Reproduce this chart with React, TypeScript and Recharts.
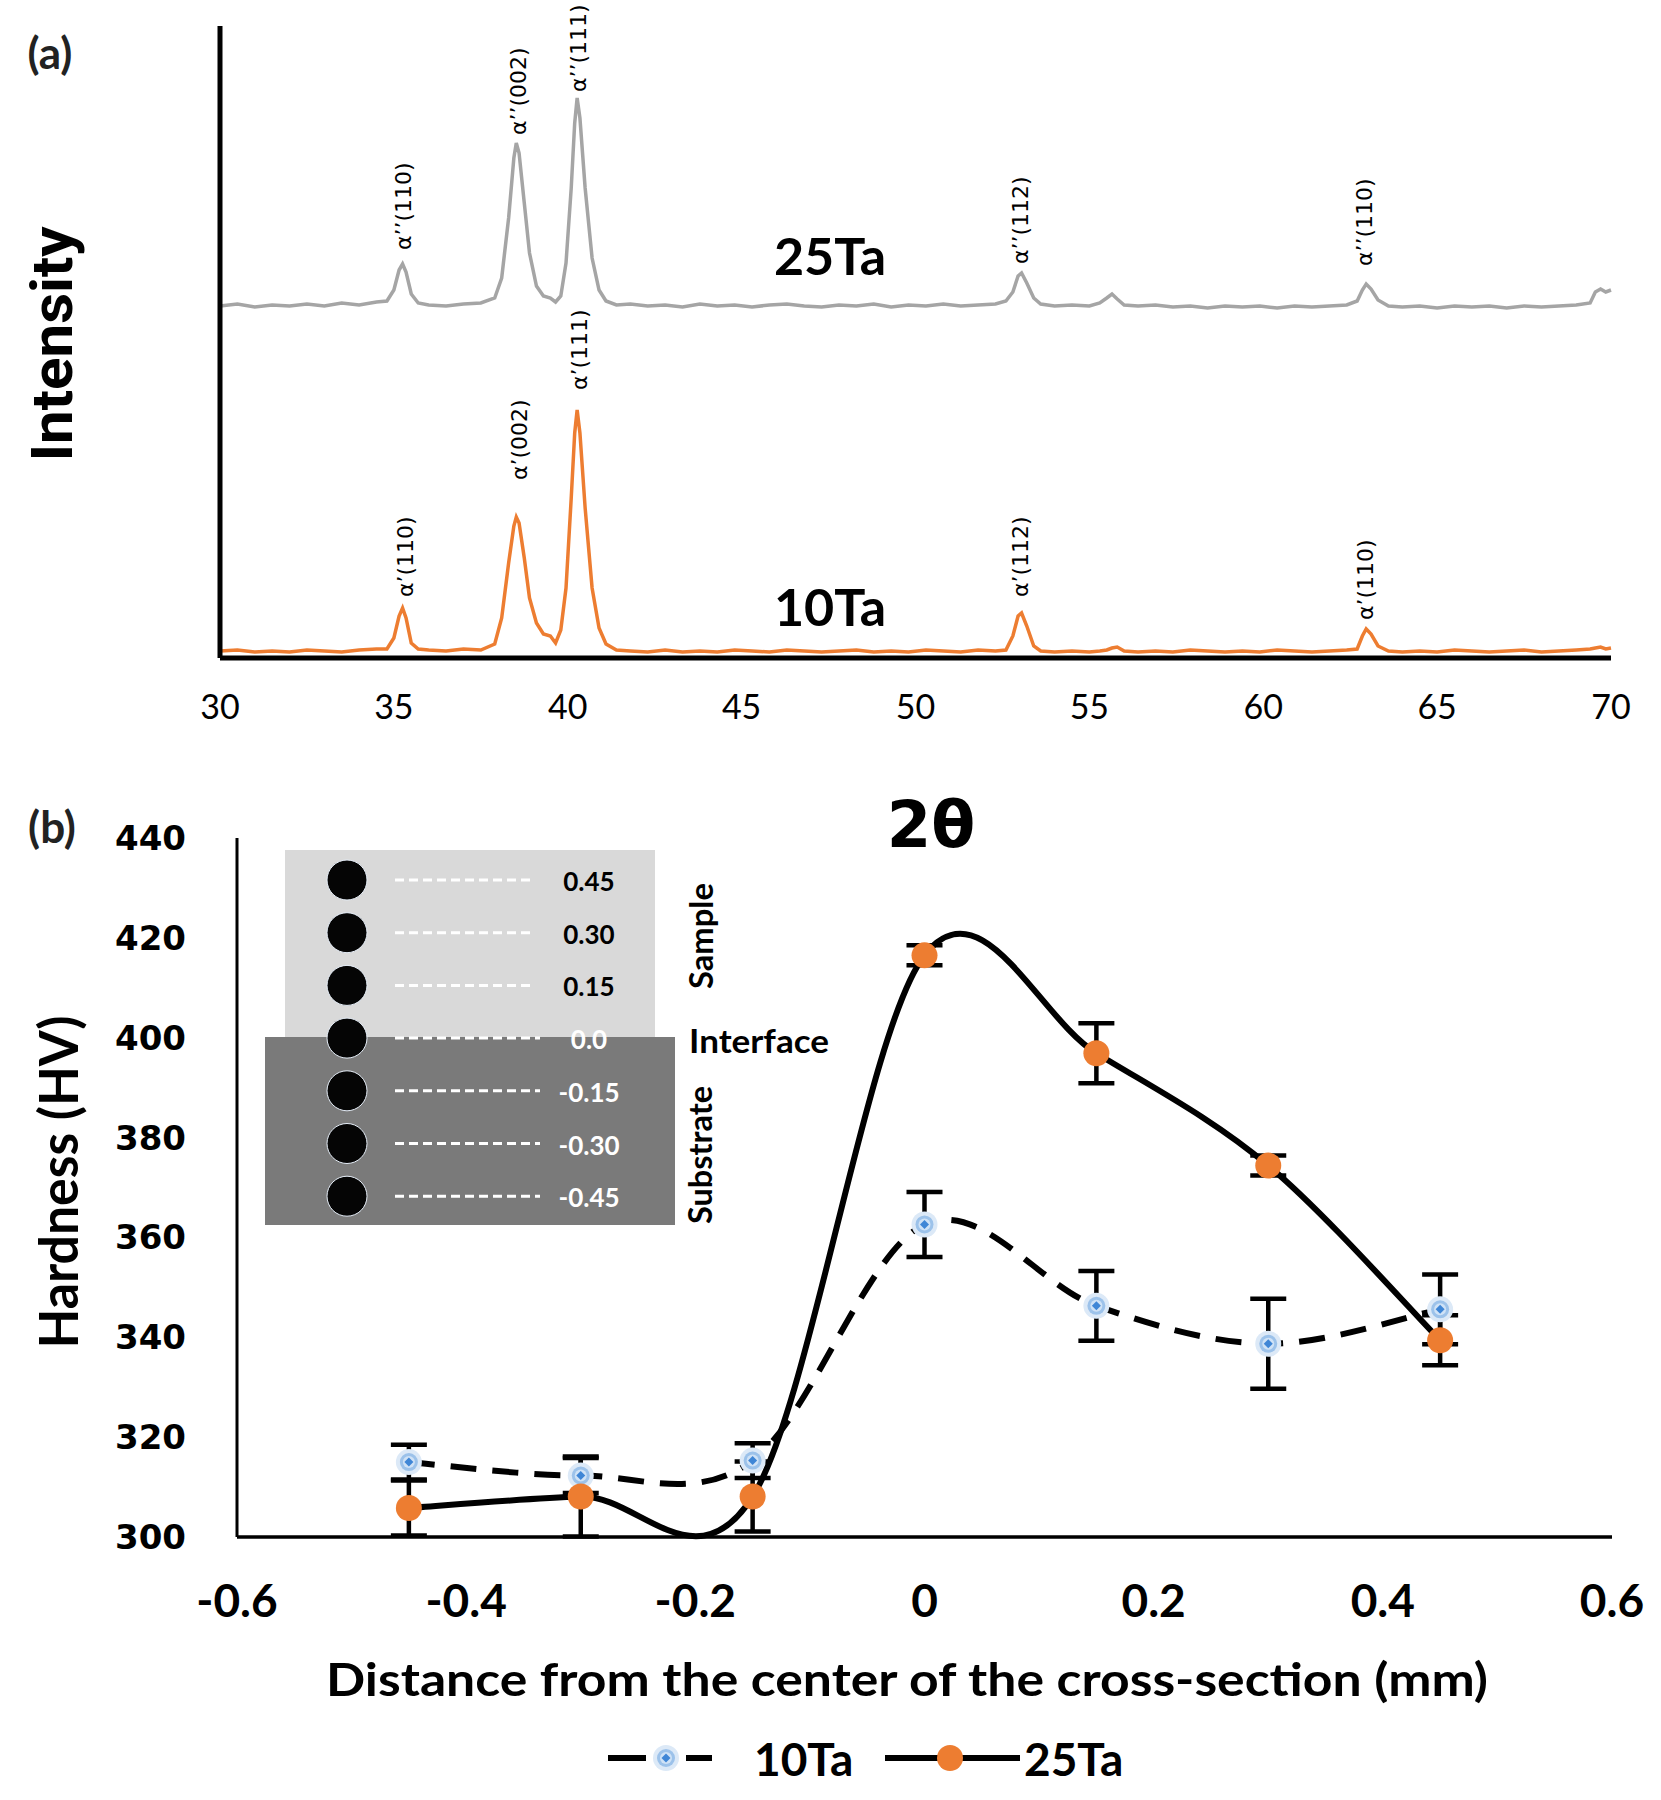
import React from 'react';
import { ComposedChart, Line, XAxis, YAxis, Scatter, ErrorBar } from 'recharts';

// ---------- Panel (a): XRD patterns ----------
const twoTheta = [
  30.0, 30.5, 31.0, 31.5, 32.0, 32.5, 33.0, 33.5, 34.0, 34.5, 34.8, 35.0, 35.15, 35.25, 35.35, 35.5, 35.7, 36.0, 36.5, 37.0,
  37.5, 37.9, 38.1, 38.3, 38.45, 38.52, 38.6, 38.75, 38.9, 39.1, 39.3, 39.5, 39.65, 39.8, 39.95, 40.1, 40.2, 40.27, 40.35, 40.5,
  40.7, 40.9, 41.1, 41.4, 41.8, 42.3, 42.8, 43.3, 43.8, 44.3, 44.8, 45.3, 45.8, 46.3, 46.8, 47.3, 47.8, 48.3, 48.8, 49.3,
  49.8, 50.3, 50.8, 51.3, 51.8, 52.3, 52.6, 52.8, 52.95, 53.05, 53.2, 53.4, 53.6, 54.0, 54.5, 55.0, 55.3, 55.5, 55.65, 55.8,
  56.0, 56.4, 56.9, 57.4, 57.9, 58.4, 58.9, 59.4, 59.9, 60.4, 60.9, 61.4, 61.9, 62.4, 62.7, 62.85, 62.96, 63.1, 63.3, 63.6,
  64.0, 64.5, 65.0, 65.5, 66.0, 66.5, 67.0, 67.5, 68.0, 68.5, 69.0, 69.4, 69.55, 69.7, 69.85, 70.0,
];
const intensity25Ta = [
  352, 354, 351, 353, 352, 354, 352, 355, 353, 356, 357, 368, 388, 394, 386, 364, 355, 353, 352, 354,
  355, 360, 380, 440, 500, 515, 505, 455, 405, 372, 362, 360, 356, 362, 395, 470, 535, 560, 540, 470,
  400, 368, 357, 353, 354, 352, 353, 351, 354, 352, 353, 351, 353, 354, 352, 351, 353, 352, 354, 351,
  353, 352, 354, 352, 353, 354, 357, 366, 382, 385, 375, 360, 354, 352, 353, 352, 355, 360, 364, 359,
  353, 352, 353, 351, 352, 350, 352, 351, 352, 350, 352, 351, 352, 353, 357, 368, 374, 369, 358, 352,
  351, 352, 350, 352, 351, 352, 350, 352, 351, 352, 353, 355, 366, 369, 366, 368,
];
const intensity10Ta = [
  7, 8, 6, 7, 6, 8, 7, 6, 8, 9, 9, 20, 42, 50, 40, 15, 9, 8, 7, 9,
  8, 14, 40, 95, 132, 141, 135, 100, 60, 35, 24, 22, 15, 28, 70, 160, 225, 248, 225, 150,
  70, 30, 14, 8, 7, 6, 8, 6, 7, 6, 8, 7, 6, 8, 7, 6, 7, 8, 6, 7,
  6, 8, 7, 6, 8, 7, 8, 22, 42, 45, 32, 12, 7, 6, 7, 6, 7, 8, 10, 11,
  7, 6, 7, 6, 8, 7, 6, 7, 6, 8, 7, 6, 7, 8, 9, 22, 29, 24, 12, 7,
  6, 7, 6, 8, 7, 6, 7, 8, 6, 7, 8, 9, 10, 11, 9, 10,
];
const xrdTicks = [30, 35, 40, 45, 50, 55, 60, 65, 70];

const peakLabels25Ta = [
  { x: 35.29, y: 408, text: 'α’’(110)' },
  { x: 38.57, y: 523, text: 'α’’(002)' },
  { x: 40.3, y: 566, text: 'α’’(111)' },
  { x: 53.03, y: 394, text: 'α’’(112)' },
  { x: 62.9, y: 392, text: 'α’’(110)' },
];
const peakLabels10Ta = [
  { x: 35.32, y: 61, text: 'α’(110)' },
  { x: 38.6, y: 178, text: 'α’(002)' },
  { x: 40.35, y: 268, text: 'α’(111)' },
  { x: 53.03, y: 61, text: 'α’(112)' },
  { x: 62.95, y: 38, text: 'α’(110)' },
];

// ---------- Panel (b): hardness profile ----------
const distance = [-0.45, -0.3, -0.15, 0, 0.15, 0.3, 0.45];
const hardness10Ta = [315.0, 312.3, 315.3, 362.6, 346.3, 338.7, 345.6];
const error10Ta = [3.5, 3.5, 3.5, 6.5, 7.0, 9.0, 7.0];
const hardness25Ta = [305.8, 308.1, 308.1, 416.5, 396.9, 374.4, 339.4];
const error25Ta = [5.5, 8.0, 7.0, 2.0, 6.0, 2.0, 5.0];
const distanceTicks = [-0.6, -0.4, -0.2, 0, 0.2, 0.4, 0.6];
const hardnessTicks = [300, 320, 340, 360, 380, 400, 420, 440];

const insetDepths = ['0.45', '0.30', '0.15', '0.0', '-0.15', '-0.30', '-0.45'];

const xrdData = twoTheta.map((x, i) => ({ x, i25: intensity25Ta[i], i10: intensity10Ta[i] }));
const hvData = distance.map((x, i) => ({
  x,
  h10: hardness10Ta[i],
  e10: error10Ta[i],
  h25: hardness25Ta[i],
  e25: error25Ta[i],
}));

const LATO = "Lato, 'Open Sans', sans-serif";
const DEJAVU = "'DejaVu Sans', Verdana, sans-serif";
const ORANGE = '#ed7d31';
const GRAY = '#a5a5a5';

// Catmull-Rom style smoothing (like spreadsheet "smoothed line")
const smoothCurve: any = (context: any) => {
  let pts: number[][] = [];
  return {
    areaStart() {},
    areaEnd() {},
    lineStart() {
      pts = [];
    },
    point(x: number, y: number) {
      pts.push([+x, +y]);
    },
    lineEnd() {
      const n = pts.length;
      if (!n) return;
      context.moveTo(pts[0][0], pts[0][1]);
      for (let i = 0; i < n - 1; i++) {
        const p0 = pts[Math.max(i - 1, 0)];
        const p1 = pts[i];
        const p2 = pts[i + 1];
        const p3 = pts[Math.min(i + 2, n - 1)];
        context.bezierCurveTo(
          p1[0] + (p2[0] - p0[0]) / 6,
          p1[1] + (p2[1] - p0[1]) / 6,
          p2[0] - (p3[0] - p1[0]) / 6,
          p2[1] - (p3[1] - p1[1]) / 6,
          p2[0],
          p2[1]
        );
      }
    },
  };
};

const PeakLabel = (props: any) => {
  const { cx, cy, payload } = props;
  if (cx == null || cy == null) return <g />;
  return (
    <text
      x={cx}
      y={cy}
      transform={`rotate(-90 ${cx} ${cy})`}
      textAnchor="start"
      dominantBaseline="central"
      fontFamily={DEJAVU}
      fontSize={22}
      fill="#000"
    >
      {payload.text}
    </text>
  );
};

const BlueMarker = ({ cx, cy }: { cx: number; cy: number }) => (
  <g>
    <circle cx={cx} cy={cy} r={13} fill="#dce9f7" />
    <circle cx={cx} cy={cy} r={9} fill="#9cc2ea" />
    <circle cx={cx} cy={cy} r={6} fill="#cfe2f6" />
    <path d={`M${cx} ${cy - 4.5}L${cx + 4.5} ${cy}L${cx} ${cy + 4.5}L${cx - 4.5} ${cy}Z`} fill="#3f86d6" />
  </g>
);

const blueDot = (props: any) => {
  const { cx, cy, index } = props;
  if (cx == null || cy == null) return <g key={`b${index}`} />;
  return (
    <g key={`b${index}`}>
      <BlueMarker cx={cx} cy={cy} />
    </g>
  );
};

const orangeDot = (props: any) => {
  const { cx, cy, index } = props;
  if (cx == null || cy == null) return <g key={`o${index}`} />;
  return <circle key={`o${index}`} cx={cx} cy={cy} r={13} fill={ORANGE} />;
};

export default function App() {
  const insetRowY = (i: number) => 880 + i * 52.7;
  return (
    <div style={{ position: 'absolute', left: 0, top: 0, width: 1661, height: 1800, background: '#fff' }}>
      {/* Panel (a) */}
      <div style={{ position: 'absolute', left: 0, top: 0 }}>
        <ComposedChart width={1661} height={760} data={xrdData} margin={{ top: 26, right: 50, left: 0, bottom: 0 }}>
          <XAxis
            dataKey="x"
            type="number"
            domain={[30, 70]}
            ticks={xrdTicks}
            interval={0}
            height={102}
            tickLine={false}
            tickSize={0}
            tickMargin={37}
            axisLine={{ stroke: '#000', strokeWidth: 5 }}
            tick={{ fontSize: 34, fontFamily: LATO, fill: '#000' }}
          />
          <YAxis
            type="number"
            domain={[0, 632]}
            width={220}
            tick={false}
            tickLine={false}
            axisLine={{ stroke: '#000', strokeWidth: 5 }}
          />
          <Line dataKey="i25" type="linear" stroke={GRAY} strokeWidth={3.5} dot={false} isAnimationActive={false} />
          <Line dataKey="i10" type="linear" stroke={ORANGE} strokeWidth={3.5} dot={false} isAnimationActive={false} />
          <Scatter data={peakLabels25Ta} dataKey="y" shape={PeakLabel} isAnimationActive={false} />
          <Scatter data={peakLabels10Ta} dataKey="y" shape={PeakLabel} isAnimationActive={false} />
        </ComposedChart>
      </div>

      {/* Panel (b) */}
      <div style={{ position: 'absolute', left: 0, top: 760 }}>
        <ComposedChart width={1661} height={1040} data={hvData} margin={{ top: 78, right: 49, left: 0, bottom: 0 }}>
          <XAxis
            dataKey="x"
            type="number"
            domain={[-0.6, 0.6]}
            ticks={distanceTicks}
            interval={0}
            height={263}
            tickLine={false}
            tickSize={0}
            tickMargin={47}
            axisLine={{ stroke: '#000', strokeWidth: 3.5 }}
            tick={{ fontSize: 46, fontFamily: LATO, fontWeight: 700, fill: '#000' }}
            tickFormatter={(v: number) => String(v)}
          />
          <YAxis
            type="number"
            domain={[300, 440]}
            ticks={hardnessTicks}
            interval={0}
            width={237}
            tickLine={false}
            tickSize={0}
            tickMargin={51}
            axisLine={{ stroke: '#000', strokeWidth: 3 }}
            tick={{ fontSize: 34, fontFamily: DEJAVU, fontWeight: 700, fill: '#000' }}
          />
          <Line
            dataKey="h10"
            type={smoothCurve}
            stroke="#000"
            strokeWidth={6}
            strokeDasharray="26 16"
            dot={blueDot}
            activeDot={false}
            isAnimationActive={false}
          >
            <ErrorBar dataKey="e10" direction="y" width={18} strokeWidth={4.5} stroke="#000" />
          </Line>
          <Line
            dataKey="h25"
            type={smoothCurve}
            stroke="#000"
            strokeWidth={6}
            dot={orangeDot}
            activeDot={false}
            isAnimationActive={false}
          >
            <ErrorBar dataKey="e25" direction="y" width={18} strokeWidth={4.5} stroke="#000" />
          </Line>
        </ComposedChart>
      </div>

      {/* Text, inset schematic and legend */}
      <svg
        width={1661}
        height={1800}
        style={{ position: 'absolute', left: 0, top: 0, pointerEvents: 'none' }}
      >
        <text x={50} y={52} textAnchor="middle" dominantBaseline="central" fontFamily={LATO} fontWeight={700} fontSize={44} fill="#222">
          (a)
        </text>
        <text
          x={52}
          y={344}
          transform="rotate(-90 52 344)"
          textAnchor="middle"
          dominantBaseline="central"
          fontFamily="Roboto, sans-serif"
          fontWeight={700}
          fontSize={57}
          textLength={235}
          lengthAdjust="spacingAndGlyphs"
          fill="#000"
        >
          Intensity
        </text>
        <text x={830} y={255} textAnchor="middle" dominantBaseline="central" fontFamily={LATO} fontWeight={700} fontSize={52} fill="#000">
          25Ta
        </text>
        <text x={830} y={606} textAnchor="middle" dominantBaseline="central" fontFamily={LATO} fontWeight={700} fontSize={52} fill="#000">
          10Ta
        </text>
        <text x={931} y={825} textAnchor="middle" dominantBaseline="central" fontFamily={DEJAVU} fontWeight={700} fontSize={64} fill="#000">
          2θ
        </text>
        <text x={52} y={826} textAnchor="middle" dominantBaseline="central" fontFamily={LATO} fontWeight={700} fontSize={44} fill="#222">
          (b)
        </text>
        <text
          x={57}
          y={1182}
          transform="rotate(-90 57 1182)"
          textAnchor="middle"
          dominantBaseline="central"
          fontFamily={LATO}
          fontWeight={700}
          fontSize={54}
          textLength={333}
          lengthAdjust="spacingAndGlyphs"
          fill="#000"
        >
          Hardness (HV)
        </text>
        <text
          x={907}
          y={1678}
          textAnchor="middle"
          dominantBaseline="central"
          fontFamily={LATO}
          fontWeight={700}
          fontSize={46}
          textLength={1162}
          lengthAdjust="spacingAndGlyphs"
          fill="#000"
        >
          Distance from the center of the cross-section (mm)
        </text>

        {/* inset schematic */}
        <rect x={285} y={850} width={370} height={189} fill="#d9d9d9" />
        <rect x={265} y={1037} width={410} height={188} fill="#7a7a7a" />
        {insetDepths.map((d, i) => {
          const y = insetRowY(i);
          const onDark = i >= 3;
          return (
            <g key={d}>
              <circle cx={347} cy={y} r={20} fill="#050505" stroke="#e6eef8" strokeWidth={1} />
              <line x1={395} x2={onDark ? 540 : 533} y1={y} y2={y} stroke="#fff" strokeWidth={3} strokeDasharray="9 5" />
              <text
                x={589}
                y={y + 1}
                textAnchor="middle"
                dominantBaseline="central"
                fontFamily={LATO}
                fontWeight={700}
                fontSize={26}
                fill={onDark ? '#fff' : '#000'}
              >
                {d}
              </text>
            </g>
          );
        })}
        <text
          x={700}
          y={936}
          transform="rotate(-90 700 936)"
          textAnchor="middle"
          dominantBaseline="central"
          fontFamily={LATO}
          fontWeight={700}
          fontSize={32}
          textLength={106}
          lengthAdjust="spacingAndGlyphs"
          fill="#000"
        >
          Sample
        </text>
        <text
          x={689}
          y={1040}
          textAnchor="start"
          dominantBaseline="central"
          fontFamily={LATO}
          fontWeight={700}
          fontSize={32}
          textLength={140}
          lengthAdjust="spacingAndGlyphs"
          fill="#000"
        >
          Interface
        </text>
        <text
          x={699}
          y={1155}
          transform="rotate(-90 699 1155)"
          textAnchor="middle"
          dominantBaseline="central"
          fontFamily={LATO}
          fontWeight={700}
          fontSize={32}
          textLength={138}
          lengthAdjust="spacingAndGlyphs"
          fill="#000"
        >
          Substrate
        </text>

        {/* legend */}
        <line x1={608} x2={646} y1={1758} y2={1758} stroke="#000" strokeWidth={6} />
        <line x1={686} x2={712} y1={1758} y2={1758} stroke="#000" strokeWidth={6} />
        <BlueMarker cx={666} cy={1758} />
        <text x={754} y={1758} dominantBaseline="central" fontFamily={LATO} fontWeight={700} fontSize={46} fill="#000">
          10Ta
        </text>
        <line x1={885} x2={1020} y1={1758} y2={1758} stroke="#000" strokeWidth={6} />
        <circle cx={950} cy={1758} r={13} fill={ORANGE} />
        <text x={1024} y={1758} dominantBaseline="central" fontFamily={LATO} fontWeight={700} fontSize={46} fill="#000">
          25Ta
        </text>
      </svg>
    </div>
  );
}
